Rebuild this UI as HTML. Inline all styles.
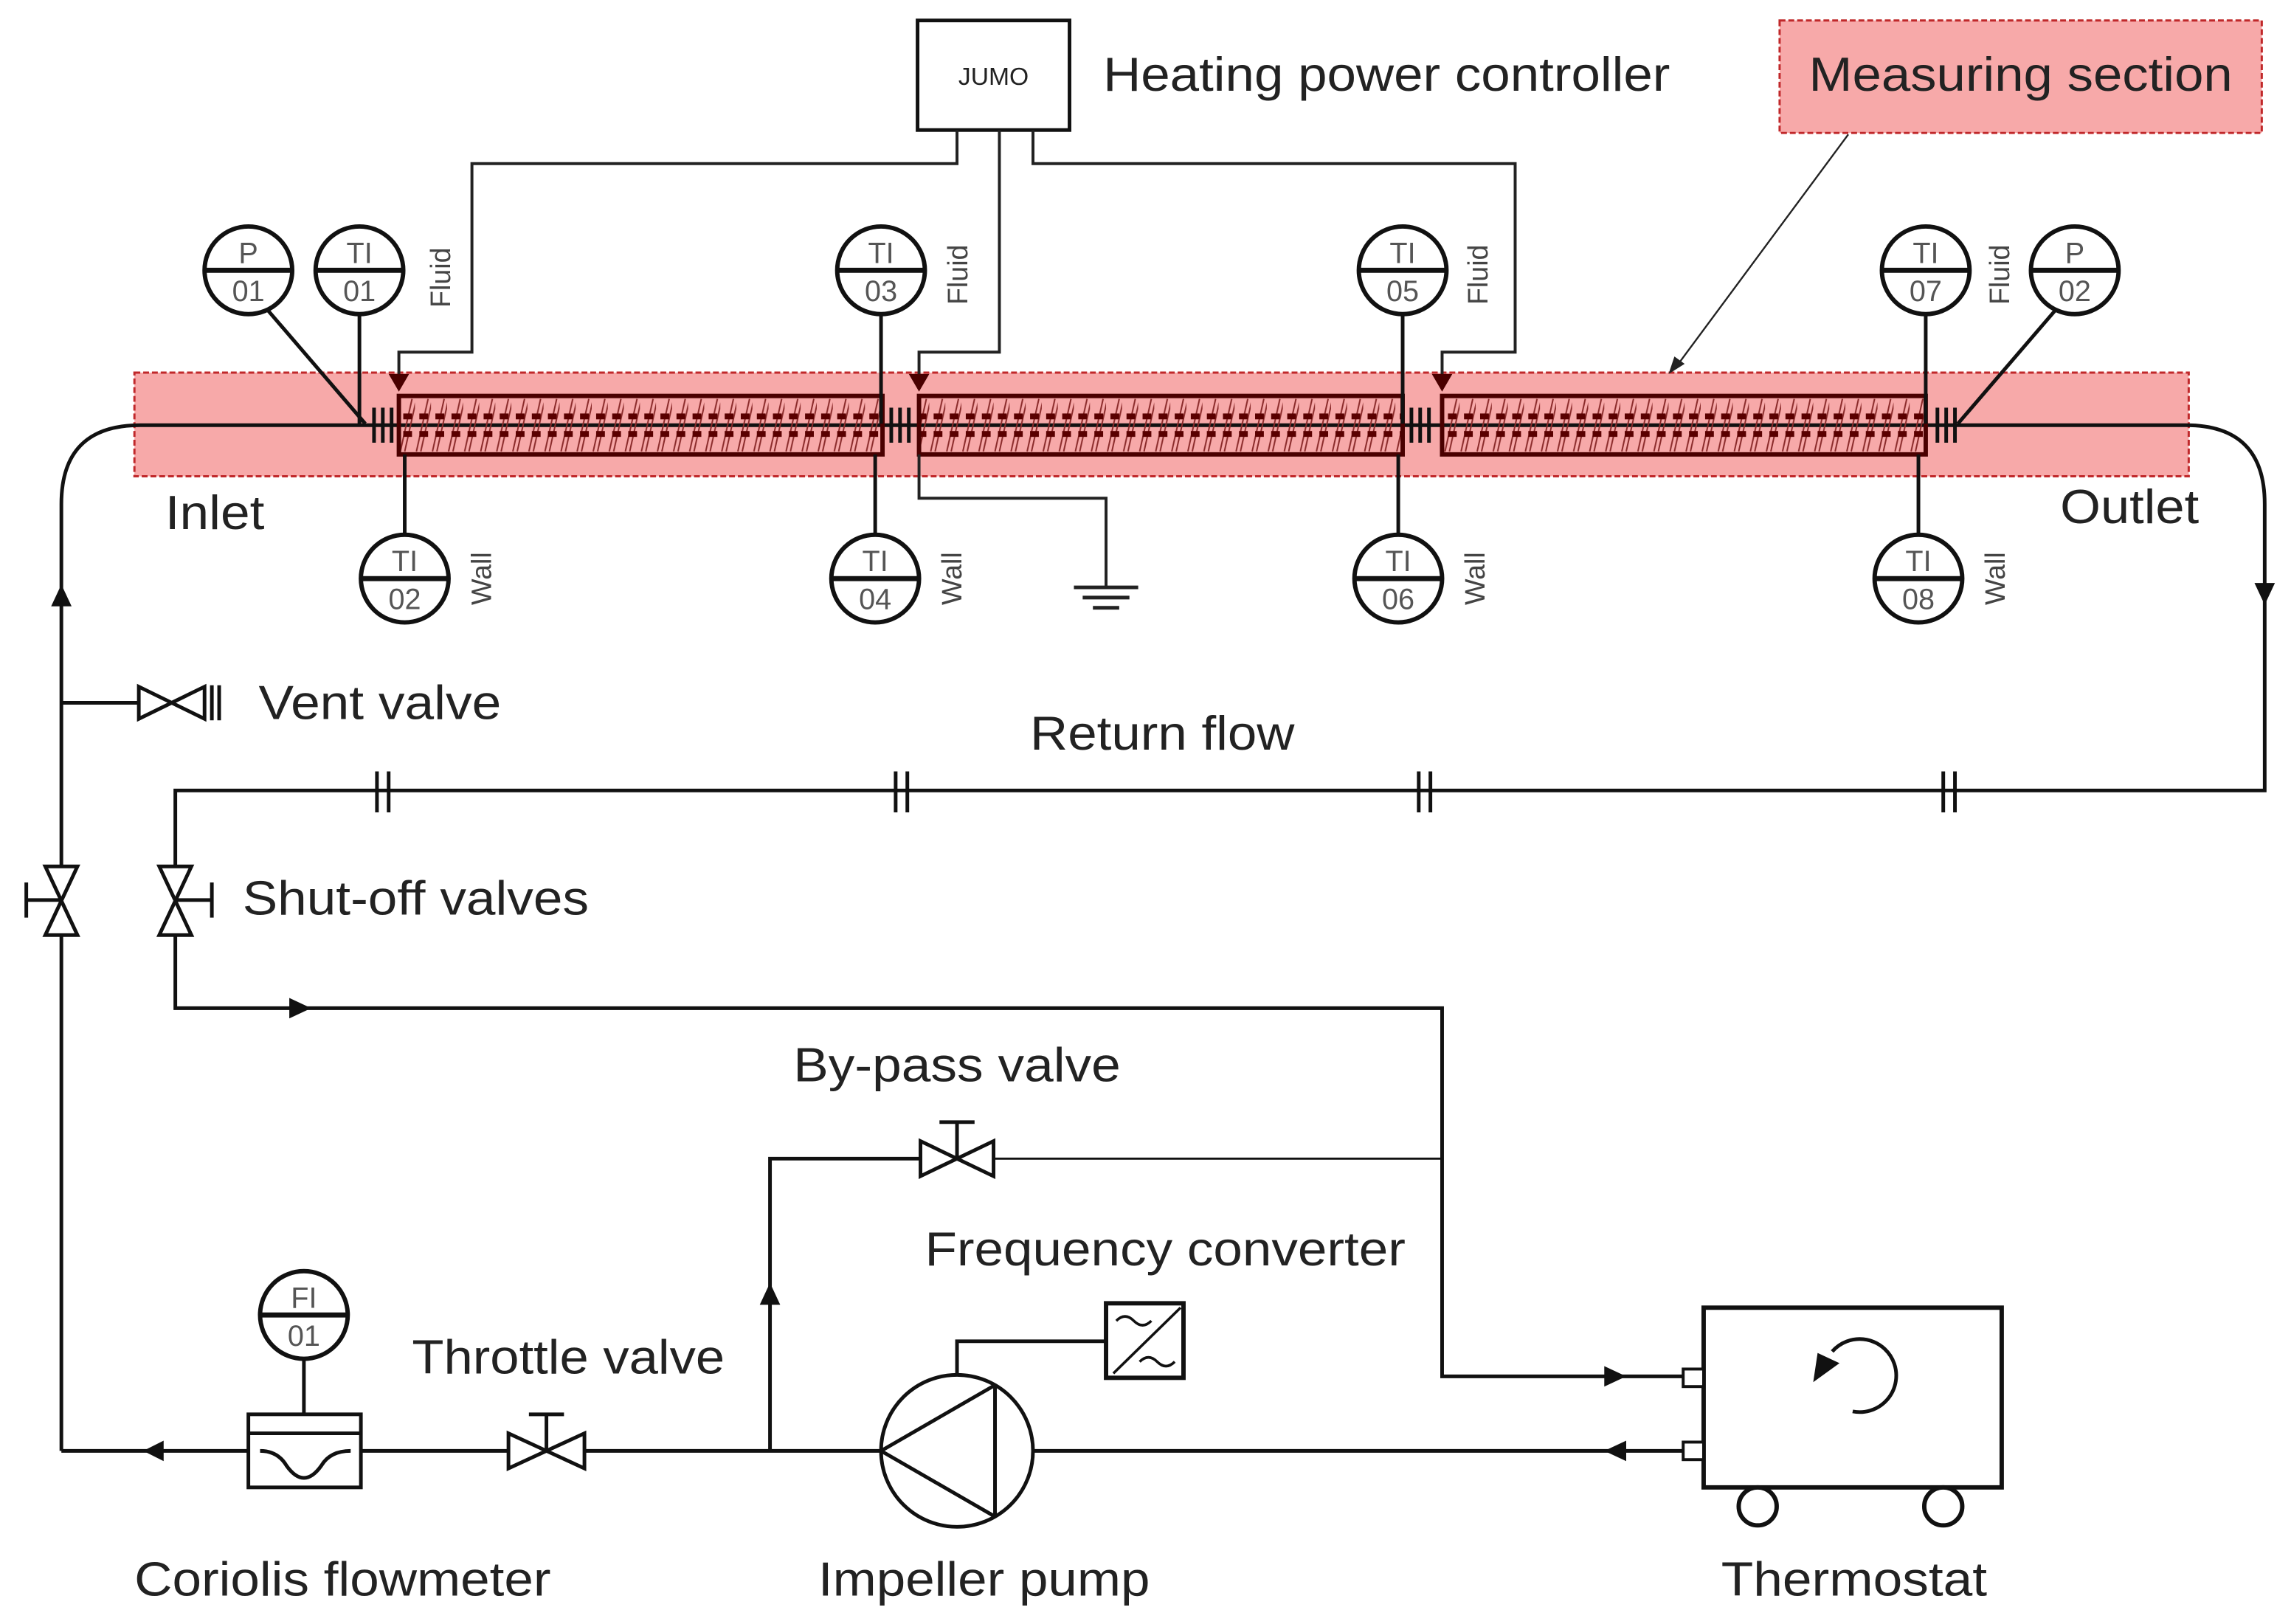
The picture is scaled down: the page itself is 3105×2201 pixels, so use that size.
<!DOCTYPE html>
<html><head><meta charset="utf-8"><style>html,body{margin:0;padding:0;background:#fff}svg{display:block}</style></head>
<body>
<svg width="3105" height="2201" viewBox="0 0 1568 1111.5" preserveAspectRatio="none" xmlns="http://www.w3.org/2000/svg" font-family="Liberation Sans, Arial, sans-serif">
<defs>
<pattern id="coil" x="273" y="271" width="11" height="40" patternUnits="userSpaceOnUse">
<path d="M1 38 L9 2 M4 38 L12 2" stroke="#8a2a2a" stroke-width="1" fill="none"/>
<rect x="3" y="12" width="6" height="4" fill="#5a0000"/>
<rect x="3" y="24" width="6" height="4" fill="#5a0000"/>
</pattern>
</defs>
<rect width="1568" height="1111.5" fill="#fff"/>

<rect x="92" y="255" width="1406" height="71" fill="#f7a9a9" stroke="#c0282a" stroke-width="1.5" stroke-dasharray="4 2"/>

<g stroke="#111" stroke-width="2.5" fill="none">
<path d="M42 993 L42 345 Q42 291 96 291 L1496 291 Q1550 291 1550 345 L1550 541 L120 541 L120 690 L987 690 L987 942 L1152 942"/>
<path d="M42 993 L1152 993"/>
<path d="M527 993 L527 793 L630 793"/>
<path d="M680 793 L987 793" stroke-width="1.5"/>
<path d="M42 481 L95 481"/>
</g>

<g stroke="#4a0000" stroke-width="3">
<rect x="273" y="271" width="331" height="40" fill="url(#coil)"/>
<rect x="629" y="271" width="331" height="40" fill="url(#coil)"/>
<rect x="987" y="271" width="331" height="40" fill="url(#coil)"/>
</g>

<g stroke="#111" stroke-width="2.5">
<path d="M256 279 V303 M262 279 V303 M268 279 V303"/>
<path d="M610 279 V303 M616 279 V303 M622 279 V303"/>
<path d="M966 279 V303 M972 279 V303 M978 279 V303"/>
<path d="M1326 279 V303 M1332 279 V303 M1338 279 V303"/>
<path d="M258 528 V556 M266 528 V556"/>
<path d="M613 528 V556 M621 528 V556"/>
<path d="M971 528 V556 M979 528 V556"/>
<path d="M1330 528 V556 M1338 528 V556"/>
</g>

<rect x="628" y="14" width="104" height="75" fill="#fff" stroke="#111" stroke-width="2.5"/>
<text x="680" y="58" font-size="17" text-anchor="middle" fill="#222">JUMO</text>
<text x="755" y="62" font-size="33" fill="#222" textLength="388" lengthAdjust="spacingAndGlyphs">Heating power controller</text>
<g stroke="#222" stroke-width="2" fill="none">
<path d="M655 89 V112 H323 V241 H273 V262"/>
<path d="M684 89 V241 H629 V262"/>
<path d="M707 89 V112 H1037 V241 H987 V262"/>
<path d="M629 311 V341 H757 V402"/>
<path d="M735 402 H779 M741 409 H773 M748 416 H766" stroke-width="2.5"/>
</g>
<g fill="#4a0000">
<path d="M266 256 L280 256 L273 268 Z"/>
<path d="M622 256 L636 256 L629 268 Z"/>
<path d="M980 256 L994 256 L987 268 Z"/>
</g>

<rect x="1218" y="14" width="330" height="77" fill="#f7a9a9" stroke="#c0282a" stroke-width="1.5" stroke-dasharray="4 2"/>
<text x="1383" y="62" font-size="33" text-anchor="middle" fill="#222" textLength="290" lengthAdjust="spacingAndGlyphs">Measuring section</text>
<path d="M1265 92 L1148 250" stroke="#222" stroke-width="1.2"/>
<path d="M1142 256 L1146 244 L1153 249 Z" fill="#222"/>

<g stroke="#111" stroke-width="2.5">
<path d="M183 212 L250 290"/>
<path d="M246 215 V290"/>
<path d="M603 215 V290"/>
<path d="M960 215 V290"/>
<path d="M1318 215 V290"/>
<path d="M1407 212 L1340 290"/>
<path d="M277 311 V366"/>
<path d="M599 311 V366"/>
<path d="M957 311 V366"/>
<path d="M1313 311 V366"/>
<path d="M208 930 V968"/>
</g>

<g stroke="#111" stroke-width="3" fill="#fff">
<circle cx="170" cy="185" r="30"/><circle cx="246" cy="185" r="30"/>
<circle cx="603" cy="185" r="30"/><circle cx="960" cy="185" r="30"/>
<circle cx="1318" cy="185" r="30"/><circle cx="1420" cy="185" r="30"/>
<circle cx="277" cy="396" r="30"/><circle cx="599" cy="396" r="30"/>
<circle cx="957" cy="396" r="30"/><circle cx="1313" cy="396" r="30"/>
<circle cx="208" cy="900" r="30"/>
</g>
<g stroke="#111" stroke-width="3.5">
<path d="M140 185 H200 M216 185 H276 M573 185 H633 M930 185 H990 M1288 185 H1348 M1390 185 H1450"/>
<path d="M247 396 H307 M569 396 H629 M927 396 H987 M1283 396 H1343 M178 900 H238"/>
</g>
<g font-size="20" fill="#555" text-anchor="middle">
<text x="170" y="180">P</text><text x="170" y="206">01</text>
<text x="246" y="180">TI</text><text x="246" y="206">01</text>
<text x="603" y="180">TI</text><text x="603" y="206">03</text>
<text x="960" y="180">TI</text><text x="960" y="206">05</text>
<text x="1318" y="180">TI</text><text x="1318" y="206">07</text>
<text x="1420" y="180">P</text><text x="1420" y="206">02</text>
<text x="277" y="391">TI</text><text x="277" y="417">02</text>
<text x="599" y="391">TI</text><text x="599" y="417">04</text>
<text x="957" y="391">TI</text><text x="957" y="417">06</text>
<text x="1313" y="391">TI</text><text x="1313" y="417">08</text>
<text x="208" y="895">FI</text><text x="208" y="921">01</text>
</g>
<g font-size="19" fill="#444" text-anchor="middle">
<text transform="translate(308 190) rotate(-90)">Fluid</text>
<text transform="translate(662 188) rotate(-90)">Fluid</text>
<text transform="translate(1018 188) rotate(-90)">Fluid</text>
<text transform="translate(1375 188) rotate(-90)">Fluid</text>
<text transform="translate(336 396) rotate(-90)">Wall</text>
<text transform="translate(658 396) rotate(-90)">Wall</text>
<text transform="translate(1016 396) rotate(-90)">Wall</text>
<text transform="translate(1372 396) rotate(-90)">Wall</text>
</g>

<g font-size="33" fill="#222" lengthAdjust="spacingAndGlyphs">
<text x="113" y="362" textLength="68" lengthAdjust="spacingAndGlyphs">Inlet</text>
<text x="1410" y="358" textLength="95" lengthAdjust="spacingAndGlyphs">Outlet</text>
<text x="177" y="492" textLength="166" lengthAdjust="spacingAndGlyphs">Vent valve</text>
<text x="705" y="513" textLength="181" lengthAdjust="spacingAndGlyphs">Return flow</text>
<text x="166" y="626" textLength="237" lengthAdjust="spacingAndGlyphs">Shut-off valves</text>
<text x="543" y="740" textLength="224" lengthAdjust="spacingAndGlyphs">By-pass valve</text>
<text x="633" y="866" textLength="329" lengthAdjust="spacingAndGlyphs">Frequency converter</text>
<text x="282" y="940" textLength="214" lengthAdjust="spacingAndGlyphs">Throttle valve</text>
<text x="92" y="1092" textLength="285" lengthAdjust="spacingAndGlyphs">Coriolis flowmeter</text>
<text x="560" y="1092" textLength="227" lengthAdjust="spacingAndGlyphs">Impeller pump</text>
<text x="1178" y="1092" textLength="182" lengthAdjust="spacingAndGlyphs">Thermostat</text>
</g>

<g fill="#111">
<path d="M35 415 L49 415 L42 400 Z"/>
<path d="M1543 399 L1557 399 L1550 414 Z"/>
<path d="M198 683 L198 697 L213 690 Z"/>
<path d="M520 893 L534 893 L527 878 Z"/>
<path d="M1098 935 L1098 949 L1113 942 Z"/>
<path d="M1113 986 L1113 1000 L1098 993 Z"/>
<path d="M112 986 L112 1000 L98 993 Z"/>
</g>

<g stroke="#111" stroke-width="2.5" fill="#fff">
<path d="M95 470 L95 492 L140 470 L140 492 Z"/>
<path d="M145 469 V493 M150 469 V493"/>
<path d="M31 593 L53 593 L31 640 L53 640 Z"/>
<path d="M42 616 H18 M18 604 V628"/>
<path d="M109 593 L131 593 L109 640 L131 640 Z"/>
<path d="M120 616 H145 M145 604 V628"/>
<path d="M630 781 L630 805 L680 781 L680 805 Z"/>
<path d="M655 793 V768 M643 768 H667"/>
<path d="M348 981 L348 1005 L400 981 L400 1005 Z"/>
<path d="M374 993 V968 M362 968 H386"/>
</g>

<g stroke="#111" stroke-width="2.5" fill="#fff">
<rect x="170" y="968" width="77" height="50"/>
<path d="M170 981 H247" fill="none"/>
<path d="M178 993 Q190 993 196 1003 Q208 1020 220 1003 Q226 993 240 993" fill="none"/>
</g>

<g stroke="#111" stroke-width="2.5" fill="#fff">
<circle cx="655" cy="993" r="52"/>
<path d="M603 993 L681 948 M603 993 L681 1038 M681 948 V1038" fill="none"/>
<path d="M655 941 V918 H757" fill="none"/>
<rect x="757" y="892" width="53" height="51" stroke-width="3"/>
<path d="M762 940 L808 895 M764 904 Q770 898 776 904 Q782 910 788 904 M780 932 Q786 926 792 932 Q798 938 804 932" fill="none" stroke-width="1.8"/>
</g>

<g stroke="#111" stroke-width="3" fill="#fff">
<rect x="1166" y="895" width="204" height="123"/>
<rect x="1152" y="937" width="14" height="12" stroke-width="2"/>
<rect x="1152" y="987" width="14" height="12" stroke-width="2"/>
<circle cx="1203" cy="1031" r="13"/>
<circle cx="1330" cy="1031" r="13"/>
<path d="M1254 925 A25 25 0 1 1 1268 966" fill="none" stroke-width="2.5"/>
</g>
<path d="M1241 946 L1244 926 L1259 933 Z" fill="#111"/>
</svg>
</body></html>
